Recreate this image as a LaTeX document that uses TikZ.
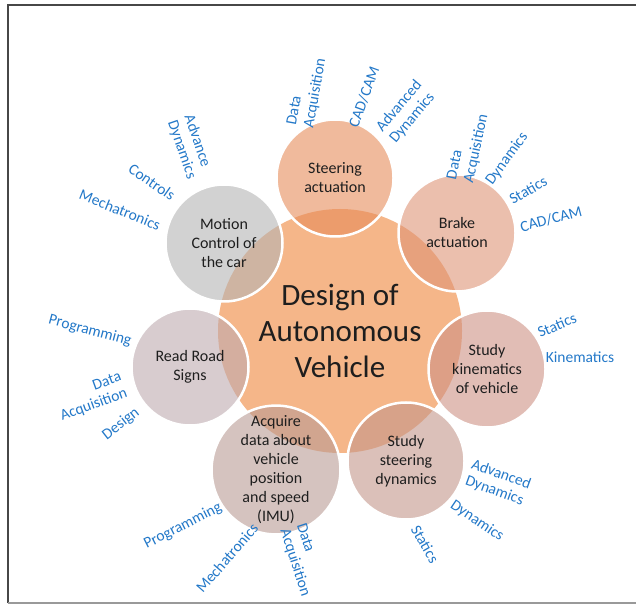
\documentclass[tikz,border=0pt]{standalone}
\usepackage{fontspec}
\setmainfont{Carlito}
\definecolor{hubfill}{RGB}{245,182,137}
\definecolor{steerfill}{RGB}{230,140,90}
\definecolor{brakefill}{RGB}{222,148,118}
\definecolor{kinfill}{RGB}{205,145,132}
\definecolor{dynfill}{RGB}{195,150,138}
\definecolor{imufill}{RGB}{185,155,148}
\definecolor{signfill}{RGB}{190,170,175}
\definecolor{motionfill}{RGB}{180,180,180}
\definecolor{topicblue}{RGB}{35,120,200}
\definecolor{inktext}{RGB}{30,30,30}
\begin{document}
\begin{tikzpicture}[x=1pt, y=1pt,
    hub/.style={circle, fill=hubfill, minimum size=244pt, inner sep=0pt, align=center,
      text=inktext, font=\fontsize{31}{36}\selectfont},
    spoke/.style={circle, fill=#1, fill opacity=0.6, text opacity=1, draw=white,
      line width=2.5pt, minimum size=117pt, inner sep=0pt, align=center,
      text=inktext, font=\fontsize{16}{19}\selectfont},
    topic/.style={text=topicblue, inner sep=0pt, font=\fontsize{15.5}{17.5}\selectfont}]
      \useasboundingbox (0,0) rectangle (636,605);
      \draw[line width=2pt, black!72] (8,2) -- (8,600) -- (636,600);
      \draw[line width=1.5pt, black!40] (8,2) -- (636,2);

      \node[hub] (design) at (340,274) {Design of\\Autonomous\\Vehicle};

      \node[spoke=steerfill] (steer) at (335,427) {Steering\\actuation};
      \node[spoke=brakefill] (brake) at (457,372) {Brake\\actuation};
      \node[spoke=kinfill] (kinem) at (487,236) {Study\\kinematics\\of vehicle};
      \node[spoke=dynfill] (stdyn) at (406,144) {Study\\steering\\dynamics};
      \node[spoke=imufill] (imu) at (276,135) {Acquire\\data about\\vehicle\\position\\and speed\\(IMU)};
      \node[spoke=signfill] (signs) at (190,238) {Read Road\\Signs};
      \node[spoke=motionfill] (motion) at (224,362) {Motion\\Control of\\the car};

      \node[topic, rotate=80, align=left] (sdaq) at (307,513) {Data\\Acquisition};
      \node[topic, rotate=70] (scad) at (364,508) {CAD/CAM};
      \node[topic, rotate=50, align=left] (sadv) at (406,493) {Advanced\\Dynamics};

      \node[topic, rotate=78, align=left] (bdaq) at (468,458) {Data\\Acquisition};
      \node[topic, rotate=54] (bdyn) at (507,446) {Dynamics};
      \node[topic, rotate=30] (bsta) at (528,415) {Statics};
      \node[topic, rotate=15] (bcad) at (551,386) {CAD/CAM};

      \node[topic, rotate=23] (ksta) at (557,280) {Statics};
      \node[topic] (kkin) at (580,248) {Kinematics};

      \node[topic, rotate=-20, align=left] (dadv) at (498,122) {Advanced\\Dynamics};
      \node[topic, rotate=-34] (ddyn) at (477,84) {Dynamics};
      \node[topic, rotate=-60] (dsta) at (425,61) {Statics};

      \node[topic, rotate=27] (iprog) at (183,79) {Programming};
      \node[topic, rotate=49] (imech) at (227,47) {Mechatronics};
      \node[topic, rotate=-72, align=left] (idaq) at (303,45) {Data\\Acquisition};

      \node[topic, rotate=-15] (rprog) at (90,274) {Programming};
      \node[topic, rotate=20, align=right] (rdaq) at (91,208) {Data\\Acquisition};
      \node[topic, rotate=38] (rdes) at (121,181) {Design};

      \node[topic, rotate=-71, align=left] (madv) at (190,458) {Advance\\Dynamics};
      \node[topic, rotate=-35] (mcon) at (152,423) {Controls};
      \node[topic, rotate=-22] (mmech) at (120,395) {Mechatronics};
    \end{tikzpicture}
\end{document}
